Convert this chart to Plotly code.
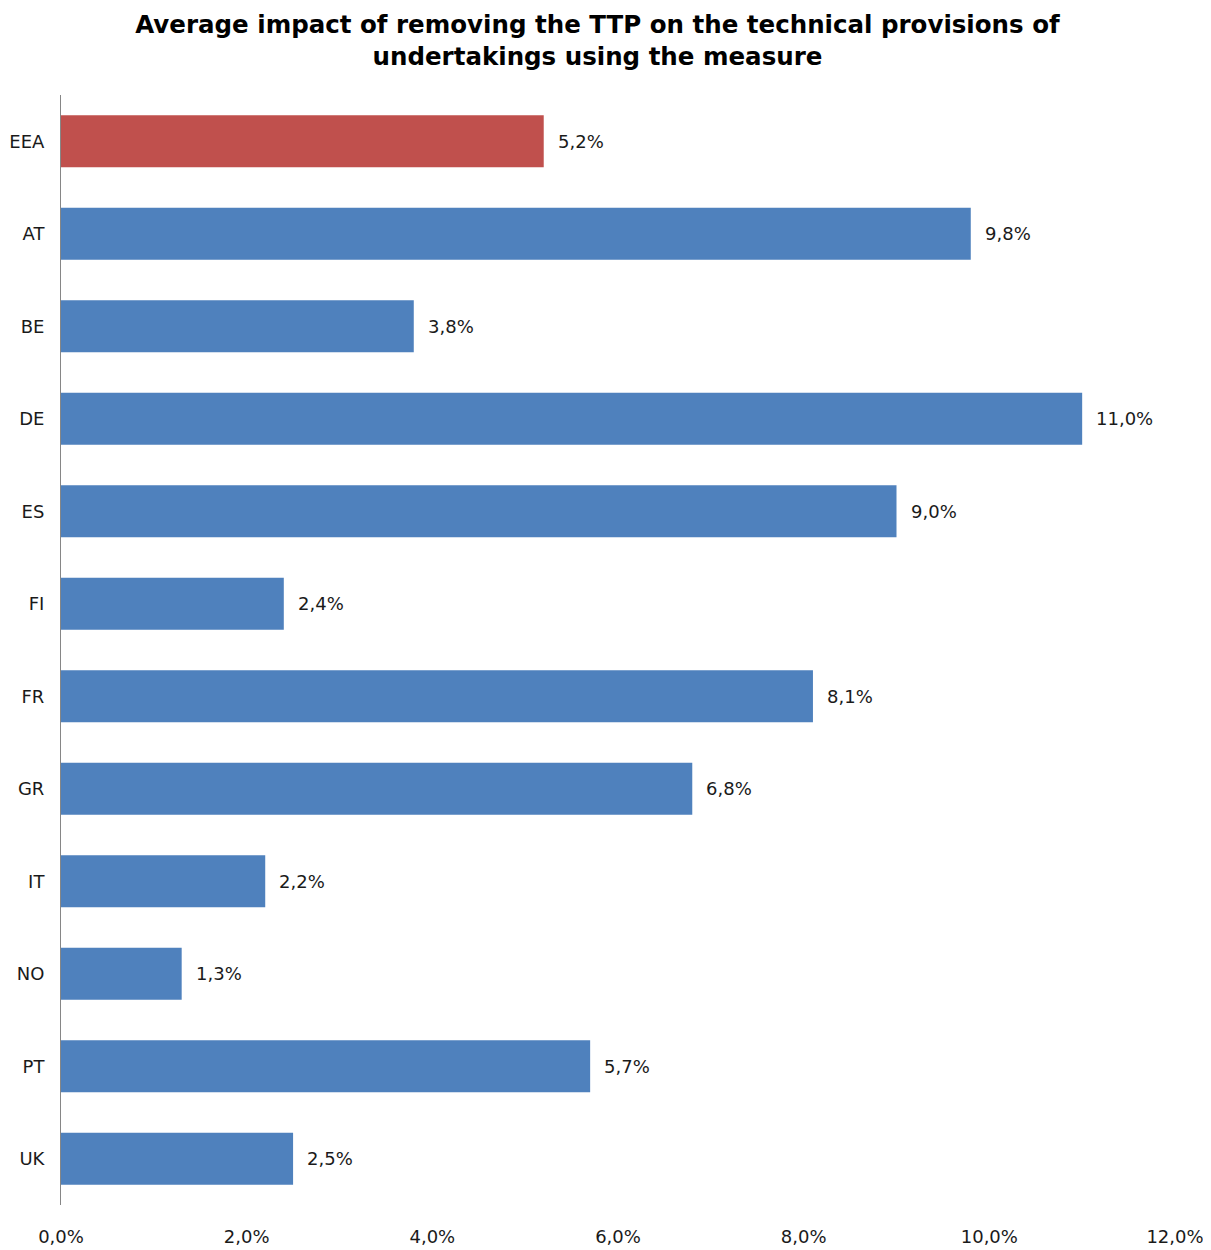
import plotly.graph_objects as go

categories = ["EEA", "AT", "BE", "DE", "ES", "FI", "FR", "GR", "IT", "NO", "PT", "UK"]
values = [5.2, 9.8, 3.8, 11.0, 9.0, 2.4, 8.1, 6.8, 2.2, 1.3, 5.7, 2.5]
highlight = "EEA"
tick_vals = [0, 2, 4, 6, 8, 10, 12]
tick_labels = ["0,0%", "2,0%", "4,0%", "6,0%", "8,0%", "10,0%", "12,0%"]

BLUE = "#4F81BD"
RED = "#C0504D"
TXT = "#1a1a1a"
colors = [RED if c == highlight else BLUE for c in categories]

fig = go.Figure(go.Bar(
    x=values, y=categories, orientation="h",
    marker=dict(color=colors, line=dict(width=0)),
    hoverinfo="skip",
))

for c, v in zip(categories, values):
    fig.add_annotation(
        x=v, y=c, xref="x", yref="y",
        text=(f"{v:.1f}%").replace(".", ","),
        showarrow=False, xanchor="left", xshift=12,
        font=dict(family="DejaVu Sans", size=18, color=TXT),
    )

fig.update_layout(
    width=1203, height=1242,
    paper_bgcolor="white", plot_bgcolor="white",
    margin=dict(l=53, r=36, t=87, b=45),
    bargap=0.44,
    separators=",.",
    showlegend=False,
    title=dict(
        text="<b>Average impact of removing the TTP on the technical provisions of<br>undertakings using the measure</b>",
        x=0.49, xanchor="center", xref="container",
        y=0.98, yanchor="top", yref="container",
        font=dict(family="DejaVu Sans", size=24.5, color="#000000"),
    ),
    font=dict(family="DejaVu Sans", size=18, color=TXT),
    xaxis=dict(
        range=[0, 12], tickvals=tick_vals, ticktext=tick_labels,
        showgrid=False, zeroline=False, showline=False, ticks="",
        ticklabelstandoff=19, automargin=False,
        tickfont=dict(family="DejaVu Sans", size=18, color=TXT),
    ),
    yaxis=dict(
        categoryorder="array", categoryarray=categories, autorange="reversed",
        showgrid=False, zeroline=False, showline=True, linecolor="#868686", linewidth=1,
        ticks="", ticklabelstandoff=12, automargin=False,
        tickfont=dict(family="DejaVu Sans", size=18, color=TXT),
    ),
)

fig.write_html("out.html")
